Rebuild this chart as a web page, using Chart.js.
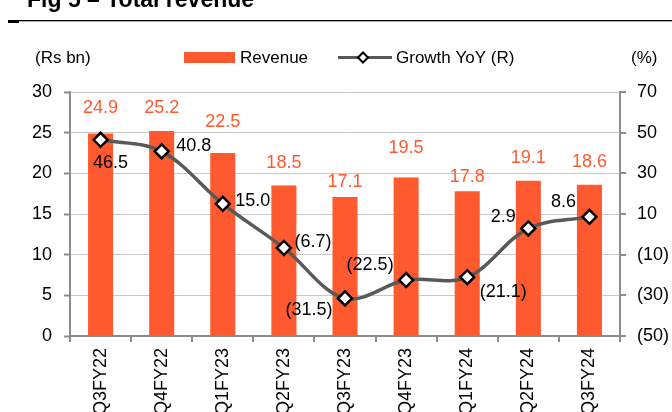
<!DOCTYPE html>
<html>
<head>
<meta charset="utf-8">
<script src="https://cdn.jsdelivr.net/npm/chart.js@4/dist/chart.umd.min.js"></script>
<style>
  html, body { margin: 0; padding: 0; background: #fff; }
  #wrap { width: 672px; height: 412px; }
</style>
</head>
<body>
<div id="wrap"><canvas id="revChart" width="672" height="412"></canvas></div>
<script>
// data
const quarters = ['Q3FY22', 'Q4FY22', 'Q1FY23', 'Q2FY23', 'Q3FY23', 'Q4FY23', 'Q1FY24', 'Q2FY24', 'Q3FY24'];
const revenue = [24.9, 25.2, 22.5, 18.5, 17.1, 19.5, 17.8, 19.1, 18.6];
const growthYoY = [46.5, 40.8, 15.0, -6.7, -31.5, -22.5, -21.1, 2.9, 8.6];
const leftTicks = [0, 5, 10, 15, 20, 25, 30];
const rightTicks = [-50, -30, -10, 10, 30, 50, 70];

// label placement (px), hand tuned like the excel original
const revLabelLift = [25, 23, 31, 23, 15, 29, 14, 23, 23];
const growthLabelShift = [[10, 23], [32, -5], [30, -3], [29, -6], [-36, 12], [-36, -15], [36, 15], [-25, -11], [-26, -15]];

const ORANGE = '#FF5A2F';
const AXIS_GREY = '#8c8c8c';
const FONT = '"Liberation Sans", Arial, sans-serif';

function fmtPct(v) {
  return v < 0 ? '(' + Math.abs(v).toFixed(1) + ')' : v.toFixed(1);
}

// draws title, legend, unit labels and value labels
const decorations = {
  id: 'decorations',
  afterDatasetsDraw(chart) {
    const c = chart.ctx;
    c.save();

    // title (mostly cut off at top)
    c.fillStyle = '#000';
    c.font = 'bold 23px ' + FONT;
    c.textAlign = 'left';
    c.textBaseline = 'alphabetic';
    c.fillText('Fig 5 \u2013 Total revenue', 27, 7);
    c.fillRect(8, 20, 664, 1.3);
    c.fillRect(8, 20, 11, 3);

    // unit labels
    c.font = '17px ' + FONT;
    c.textBaseline = 'middle';
    c.fillText('(Rs bn)', 35, 58);
    c.fillText('(%)', 631, 58);

    // legend
    c.fillStyle = ORANGE;
    c.fillRect(184, 52, 51, 11);
    c.fillStyle = '#000';
    c.fillText('Revenue', 240, 58);
    c.strokeStyle = '#595959';
    c.lineWidth = 3;
    c.beginPath();
    c.moveTo(338, 57.5);
    c.lineTo(392, 57.5);
    c.stroke();
    c.fillStyle = '#fff';
    c.strokeStyle = '#000';
    c.lineWidth = 2;
    c.beginPath();
    c.moveTo(363, 52.5);
    c.lineTo(368, 57.5);
    c.lineTo(363, 62.5);
    c.lineTo(358, 57.5);
    c.closePath();
    c.fill();
    c.stroke();
    c.fillStyle = '#000';
    c.fillText('Growth YoY (R)', 396, 58);

    // value labels
    c.font = '18px ' + FONT;
    c.textAlign = 'center';
    const barMeta = chart.getDatasetMeta(1);
    barMeta.data.forEach((bar, i) => {
      c.fillStyle = ORANGE;
      c.fillText(revenue[i].toFixed(1), bar.x, bar.y - revLabelLift[i]);
    });
    const lineMeta = chart.getDatasetMeta(0);
    lineMeta.data.forEach((pt, i) => {
      c.fillStyle = '#000';
      c.fillText(fmtPct(growthYoY[i]), pt.x + growthLabelShift[i][0], pt.y + growthLabelShift[i][1]);
    });

    c.restore();
  }
};

const ctx = document.getElementById('revChart').getContext('2d');
new Chart(ctx, {
  data: {
    labels: quarters,
    datasets: [{
      type: 'line',
      label: 'Growth YoY (R)',
      data: growthYoY,
      yAxisID: 'y2',
      order: 0,
      borderColor: '#595959',
      borderWidth: 3.5,
      tension: 0.35,
      pointStyle: 'rectRot',
      pointRadius: 7,
      pointBackgroundColor: '#fff',
      pointBorderColor: '#000',
      pointBorderWidth: 2.5
    }, {
      type: 'bar',
      label: 'Revenue',
      data: revenue,
      yAxisID: 'y',
      order: 1,
      backgroundColor: ORANGE,
      categoryPercentage: 1,
      barPercentage: 0.41
    }]
  },
  options: {
    responsive: false,
    animation: false,
    layout: { padding: { top: 92, left: 0, right: 0, bottom: 0 } },
    plugins: {
      legend: { display: false },
      tooltip: { enabled: false }
    },
    scales: {
      x: {
        offset: true,
        afterFit: s => { s.height = 76; },
        grid: { offset: true, drawOnChartArea: false, tickLength: 6, color: AXIS_GREY, lineWidth: 2 },
        border: { color: AXIS_GREY, width: 2 },
        ticks: {
          color: '#000', font: { family: FONT, size: 18 },
          minRotation: 90, maxRotation: 90, padding: 6, autoSkip: false
        }
      },
      y: {
        position: 'left',
        min: 0, max: 30,
        afterFit: s => { s.width = 70; },
        afterBuildTicks: s => { s.ticks = leftTicks.map(v => ({ value: v })); },
        grid: {
          color: '#c8c8c8', lineWidth: 1, borderDash: [3, 3],
          tickLength: 6, tickColor: AXIS_GREY, tickWidth: 2, tickBorderDash: []
        },
        border: { color: AXIS_GREY, width: 2 },
        ticks: { color: '#000', font: { family: FONT, size: 18 }, padding: 12 }
      },
      y2: {
        position: 'right',
        min: -50, max: 70,
        afterFit: s => { s.width = 52; },
        afterBuildTicks: s => { s.ticks = rightTicks.map(v => ({ value: v })); },
        grid: { drawOnChartArea: false, tickLength: 6, color: AXIS_GREY, lineWidth: 2 },
        border: { color: AXIS_GREY, width: 2 },
        ticks: {
          color: '#000', font: { family: FONT, size: 18 }, padding: 11,
          callback: v => v < 0 ? '(' + Math.abs(v) + ')' : v
        }
      }
    }
  },
  plugins: [decorations]
});
</script>
</body>
</html>
